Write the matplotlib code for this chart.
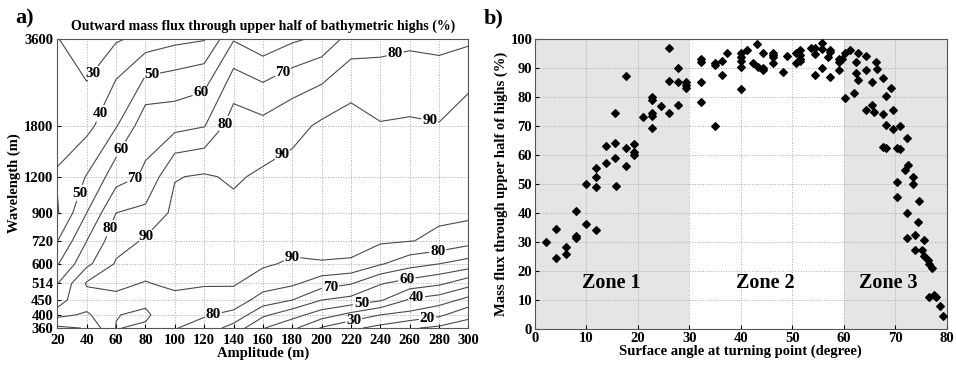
import numpy as np
import matplotlib.pyplot as plt

plt.rcParams['font.family'] = ['Liberation Serif', 'DejaVu Serif']
plt.rcParams['font.weight'] = 'bold'
plt.rcParams['axes.labelweight'] = 'bold'

# ---- panel a) : contour data ----
amplitude = [20, 40, 60, 80, 100, 120, 140, 160, 180, 200, 220, 240, 260, 280, 300]
wavelength = [3600, 1800, 1200, 900, 720, 600, 514, 450, 400, 360]
# rows follow wavelength (top to bottom), columns follow amplitude
flux_grid = [
    [30.5, 21.0, 28.6, 33.0, 37.0, 39.0, 59.0, 52.0, 58.0, 62.0, 74.0, 76.0, 77.5, 76.5, 78.0],
    [35.0, 36.6, 49.2, 66.0, 66.3, 69.4, 85.0, 82.6, 87.0, 91.5, 94.0, 90.5, 91.0, 90.4, 95.0],
    [41.0, 50.5, 65.3, 71.5, 89.5, 91.0, 88.8, 91.5, 93.0, 94.0, 95.0, 93.0, 92.5, 92.0, 92.5],
    [39.0, 60.0, 80.0, 82.3, 92.3, 94.0, 92.0, 94.0, 95.0, 95.0, 95.0, 93.0, 92.5, 91.5, 92.5],
    [49.8, 70.0, 86.2, 91.0, 94.0, 95.0, 94.0, 95.0, 94.0, 94.0, 93.0, 91.5, 90.3, 88.5, 84.0],
    [59.2, 77.5, 91.0, 94.0, 95.0, 95.0, 94.0, 91.5, 88.4, 89.3, 89.0, 81.0, 74.0, 70.0, 66.0],
    [69.5, 91.0, 92.0, 89.5, 92.0, 91.0, 91.0, 84.8, 81.9, 74.6, 70.8, 60.8, 56.0, 52.0, 44.0],
    [76.8, 86.3, 88.0, 88.0, 87.6, 86.0, 85.7, 75.8, 70.0, 60.0, 57.0, 51.2, 38.7, 35.0, 27.0],
    [83.0, 78.3, 89.7, 91.5, 83.5, 81.0, 77.3, 62.0, 53.75, 45.0, 37.0, 30.0, 27.3, 22.0, 12.7],
    [68.0, 70.5, 90.3, 88.7, 80.5, 76.0, 66.0, 50.5, 42.3, 29.0, 22.0, 17.0, 11.0, 8.0, 5.0],
]
levels = [10, 20, 30, 40, 50, 60, 70, 80, 90]
amp_ticks = [20, 40, 60, 80, 100, 120, 140, 160, 180, 200, 220, 240, 260, 280, 300]

# where the contour labels sit (amplitude, wavelength)
label_spots = [(47.7, 2646), (51, 1956), (84.5, 2646), (35.5, 1050), (117, 2388),
               (66.8, 1455), (174, 2730), (74.3, 1148), (132, 1835), (250.6, 3100),
               (59.4, 782), (170, 1517), (274, 1925), (81, 742), (180, 627),
               (126, 406), (279, 670), (206, 498), (258, 531), (227, 443),
               (264.6, 461), (221.5, 390), (272, 392)]

# ---- panel b) : scatter data ----
angle = [2.1, 4.1, 4.1, 6.0, 6.0, 8.0, 8.0, 8.0, 10.0, 10.0, 11.9, 11.9, 11.9, 11.9,
         13.8, 13.8, 15.5, 15.5, 15.5, 15.7, 17.6, 17.6, 17.6, 19.2, 19.2, 19.2,
         20.9, 22.7, 22.7, 22.7, 22.7, 22.7, 24.4, 26.1, 26.1, 26.1, 27.7, 27.7, 27.7,
         29.3, 29.3, 29.3, 32.2, 32.2, 32.2, 32.2, 35.0, 35.0, 35.0, 36.3, 36.3, 37.4,
         40.0, 40.0, 40.0, 40.0, 40.0, 41.1, 42.3, 43.2, 43.4, 44.4, 44.4, 44.4,
         46.3, 46.3, 46.3, 46.3, 48.1, 49.0, 50.7, 50.7, 51.5, 51.5, 51.5, 51.5,
         53.6, 54.4, 54.4, 54.4, 55.7, 55.7, 55.7, 57.0, 57.4, 57.4, 57.4,
         59.1, 59.1, 59.1, 59.6, 60.2, 60.2, 61.2, 62.0, 62.4, 62.4, 62.8, 62.8,
         64.4, 64.4, 64.4, 65.4, 65.4, 65.9, 66.3, 66.5, 67.7, 67.7, 68.2, 68.2,
         67.7, 68.2, 69.1, 69.6, 69.6, 71.0, 71.0, 70.4, 72.3, 72.5, 71.9, 73.5,
         70.4, 70.3, 73.4, 74.7, 72.3, 72.3, 73.8, 73.8, 74.5, 75.5, 75.1, 75.5,
         76.4, 76.6, 77.1, 76.6, 77.5, 77.9, 78.6, 79.2]
mass_flux = [30.0, 34.4, 24.4, 28.4, 25.9, 40.8, 32.1, 31.6, 50.1, 36.4, 52.6, 55.5, 49.0, 34.1,
             63.3, 57.2, 74.5, 64.4, 59.0, 49.5, 87.4, 62.5, 56.4, 63.8, 61.3, 60.1,
             73.3, 80.2, 79.1, 74.5, 73.6, 69.5, 77.0, 97.2, 85.6, 74.5, 90.0, 85.4, 77.4,
             85.4, 84.3, 83.4, 93.1, 92.3, 85.4, 78.5, 92.0, 91.1, 70.1, 92.5, 87.6, 95.2,
             95.2, 93.8, 92.6, 90.6, 82.9, 96.3, 92.0, 98.3, 90.6, 95.2, 90.0, 89.4,
             95.4, 94.6, 93.8, 91.7, 88.6, 94.3, 95.4, 92.0, 96.3, 94.6, 93.4, 92.6,
             97.2, 97.2, 94.9, 87.7, 98.9, 96.6, 90.2, 94.0, 96.3, 95.7, 86.9,
             93.1, 92.3, 89.4, 93.4, 95.2, 79.7, 96.3, 81.4, 92.3, 88.5, 95.4, 86.0,
             94.3, 89.4, 75.6, 85.4, 77.4, 75.1, 92.3, 89.7, 86.8, 74.3, 80.6, 70.5,
             63.0, 62.4, 83.4, 75.6, 69.0, 70.1, 62.1, 62.4, 65.9, 56.7, 54.9, 52.6,
             50.8, 45.6, 50.0, 44.3, 40.1, 31.3, 32.4, 27.2, 37.0, 30.9, 27.2, 25.2,
             24.0, 22.6, 20.9, 11.1, 11.7, 11.1, 7.9, 4.5]
zones = [(0, 30), (60, 80)]
zone_names = ['Zone 1', 'Zone 2', 'Zone 3']
zone_label_x = [14.9, 44.7, 68.6]

fig = plt.figure(figsize=(9.56, 3.67), dpi=100)
ax = fig.add_axes([0.060, 0.106, 0.430, 0.789])
ax2 = fig.add_axes([0.5596, 0.1035, 0.4307, 0.789])

# panel a
lam = np.array(wavelength)[::-1]
Z = np.array(flux_grid)[::-1]
ax.set_yscale('log')
cs = ax.contour(amplitude, lam, Z, levels=levels, colors='#4a4a4a', linewidths=0.8)
labels = ax.clabel(cs, fmt='%d', fontsize=11, colors='black', inline=True,
                   inline_spacing=1, manual=label_spots)
for t in labels:
    t.set_rotation(0)
    t.set_fontweight('bold')
ax.set_xlim(20, 300)
ax.set_ylim(360, 3600)
ax.set_xticks(amp_ticks)
ax.set_yticks(wavelength)
ax.set_yticklabels([str(w) for w in wavelength])
ax.minorticks_off()
ax.grid(True, linestyle=':', color='#aaaaaa', linewidth=0.7)
ax.set_xlabel('Amplitude (m)', fontsize=10.5, labelpad=0)
ax.set_ylabel('Wavelength (m)', fontsize=10.5, labelpad=2)
ax.set_title('Outward mass flux through upper half of bathymetric highs (%)',
             fontsize=10, fontweight='bold', pad=6)
fig.text(0.016, 0.935, 'a)', fontsize=16, fontweight='bold')

# panel b
for lo, hi in zones:
    ax2.axvspan(lo, hi, color='#e5e5e5', zorder=0, lw=0)
ax2.scatter(angle, mass_flux, marker='D', s=15, color='black', zorder=3)
for name, zx in zip(zone_names, zone_label_x):
    ax2.text(zx, 16, name, fontsize=14.5, fontweight='bold', ha='center', va='center')
ax2.set_xlim(0, 80)
ax2.set_ylim(0, 100)
ax2.set_xticks(range(0, 81, 10))
ax2.set_yticks(range(0, 101, 10))
ax2.grid(True, linestyle=':', color='#aaaaaa', linewidth=0.7)
ax2.set_axisbelow(True)
ax2.set_xlabel('Surface angle at turning point (degree)', fontsize=10.5, labelpad=0)
ax2.set_ylabel('Mass flux through upper half of highs (%)', fontsize=10.5, labelpad=2)
fig.text(0.506, 0.935, 'b)', fontsize=16, fontweight='bold')

for a in (ax, ax2):
    a.tick_params(direction='in', length=3, labelsize=10.5, pad=2, colors='black')
    for s in a.spines.values():
        s.set_color('#555555')
        s.set_linewidth(0.8)
    for t in a.get_xticklabels() + a.get_yticklabels():
        t.set_fontweight('bold')
ax.tick_params(axis='x', pad=4)
ax.tick_params(axis='y', pad=3)

fig.savefig('out.png', dpi=100)
